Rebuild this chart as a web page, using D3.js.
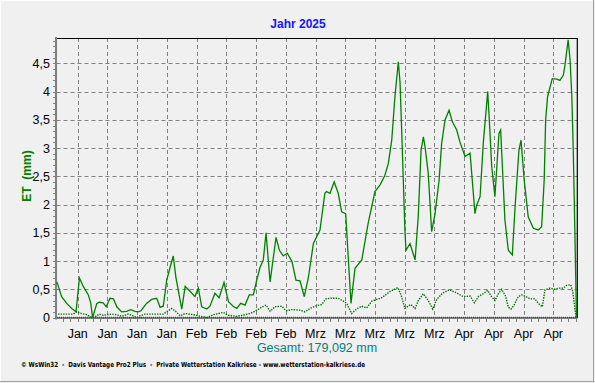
<!DOCTYPE html>
<html><head><meta charset="utf-8">
<script src="https://cdn.jsdelivr.net/npm/d3@7"></script>
<style>html,body{margin:0;padding:0;background:#f0f0f0;}svg{display:block;}</style>
</head><body><svg id="c" width="595" height="383"></svg>
<script>
// Daily ET (solid line): day offset from 1 Jan 2025, value in mm
const etDays = [0.1,1.2,2.4,3.6,4.6,5.4,6.3,7.5,8.05,8.5,9.5,10.1,11.0,11.7,12.6,13.4,14.2,15.35,16.5,17.5,18.5,19.3,19.9,21.2,22.4,23.6,24.4,25.15,25.95,26.9,27.5,28.1,29.5,30.3,31.4,32.6,33.4,34.2,35.4,36.15,37.3,38.3,39.45,40.5,41.6,42.45,43.4,44.4,45.4,46.35,47.15,47.9,48.7,49.35,50.3,51.7,52.5,53.4,54.35,55.45,56.4,57.35,58.35,59.3,60.5,62.05,63.2,63.6,64.4,65.4,66.35,67.15,68.1,69.35,70.3,71.9,73.4,75.0,76.2,77.35,78.15,78.95,79.7,80.5,80.9,81.3,82.05,82.3,83.25,84.45,85.2,85.85,86.4,86.8,87.55,88.35,89.15,90.1,90.7,91.5,92.45,93.2,94.25,95.0,96.2,97.4,98.55,98.95,99.75,100.5,101.55,101.85,102.5,103.25,104.2,104.6,105.6,106.4,107.35,108.0,108.9,109.4,110.15,111.1,112.3,113.45,114.25,114.85,115.2,115.65,116.75,117.8,118.55,119.35,119.75,120.5,120.95,121.35,121.7,122.1,122.45];
const etValues = [0.63,0.37,0.25,0.16,0.10,0.70,0.55,0.40,0.26,0.0,0.25,0.27,0.26,0.19,0.34,0.33,0.19,0.10,0.11,0.14,0.11,0.10,0.12,0.25,0.32,0.34,0.18,0.20,0.66,0.93,1.09,0.72,0.15,0.55,0.47,0.37,0.52,0.19,0.15,0.20,0.43,0.35,0.62,0.28,0.20,0.16,0.25,0.22,0.40,0.40,0.66,0.88,1.02,1.50,0.63,1.42,1.19,1.09,1.14,0.99,0.66,0.65,0.37,0.70,1.31,1.55,2.20,2.23,2.20,2.40,2.20,1.87,1.84,0.25,0.87,1.02,1.67,2.23,2.35,2.52,2.73,3.14,3.91,4.53,4.17,3.30,1.55,1.19,1.31,1.02,1.80,2.96,3.20,3.02,2.55,1.52,1.84,2.43,3.08,3.50,3.67,3.47,3.32,3.11,2.85,2.91,1.84,1.99,2.14,3.08,4.00,3.61,2.67,2.14,3.26,3.32,1.73,1.19,1.11,1.96,2.96,3.14,2.43,1.78,1.58,1.55,1.61,2.43,3.50,3.91,4.23,4.22,4.20,4.29,4.47,4.92,4.56,3.94,2.96,1.43,0];
// Second series (dotted line)
const dotDays = [0.35,3.9,4.75,5.9,7.1,8.3,9.05,10.1,11.0,13.0,14.2,15.35,16.9,17.7,18.9,19.65,20.85,25.15,27.1,27.9,29.1,30.25,32.2,33.4,35.35,36.95,39.3,40.45,42.45,44.4,45.55,46.75,48.3,49.35,50.3,51.45,53.05,54.05,55.4,57.35,58.5,59.7,61.3,62.45,63.45,64.4,66.35,67.55,68.35,69.5,70.7,71.85,73.05,74.25,76.6,78.55,80.35,81.15,82.05,83.4,84.45,85.2,86.4,87.55,88.6,89.55,90.9,92.5,93.85,95.8,97.4,98.4,99.35,100.5,101.55,102.25,103.25,104.05,104.85,105.8,106.4,107.05,107.75,108.75,109.55,110.55,111.5,112.7,113.45,114.4,115.05,116.2,117.4,118.4,119.35,120.15,121.1,121.55,121.85,122.35];
const dotValues = [0.06,0.06,0.10,0.07,0.05,0.0,0.01,0.06,0.04,0.06,0.05,0.02,0.06,0.04,0.0,0.03,0.06,0.06,0.16,0.12,0.03,0.07,0.05,0.03,0.0,0.05,0.09,0.04,0.02,0.05,0.07,0.11,0.18,0.22,0.11,0.19,0.20,0.12,0.14,0.13,0.10,0.16,0.21,0.23,0.33,0.34,0.34,0.29,0.25,0.07,0.15,0.20,0.17,0.29,0.35,0.46,0.53,0.40,0.16,0.23,0.16,0.30,0.42,0.30,0.15,0.32,0.43,0.49,0.45,0.37,0.38,0.26,0.37,0.42,0.48,0.39,0.30,0.42,0.50,0.37,0.18,0.15,0.22,0.37,0.40,0.37,0.33,0.33,0.25,0.19,0.49,0.52,0.50,0.52,0.52,0.57,0.58,0.47,0.30,0.0];
const monthNames = ["Jan","Feb","Mrz","Apr","Mai"];
const yTickValues = [0,0.5,1,1.5,2,2.5,3,3.5,4,4.5];
const titleText = "Jahr 2025";
const yLabelText = "ET  (mm)";
const totalText = "Gesamt: 179,092 mm";
const footerText = "\u00A9 WsWin32  -  Davis Vantage Pro2 Plus  -  Private Wetterstation Kalkriese - www.wetterstation-kalkriese.de";

const DAY = 864e5;
const t0 = Date.UTC(2025,0,1);
const toDate = d => new Date(t0 + d * DAY);
const x = d3.scaleUtc().domain([toDate(0), toDate(122.65)]).range([56.5, 577.3]);
const y = d3.scaleLinear().domain([0, 4.95]).range([317.5, 38]);
const L = 56.5, R = 577.3, T = 38, B = 317.5;

const svg = d3.select("#c");
svg.append("rect").attr("width",595).attr("height",383).attr("fill","#f0f0f0");
// outer frame
svg.append("line").attr("x1",0).attr("x2",594).attr("y1",0.5).attr("y2",0.5).attr("stroke","#ffffff");
svg.append("line").attr("x1",0.5).attr("x2",0.5).attr("y1",0).attr("y2",382).attr("stroke","#ffffff");
svg.append("line").attr("x1",0).attr("x2",594.5).attr("y1",381.5).attr("y2",381.5).attr("stroke","#a0a0a0");
svg.append("line").attr("x1",593.5).attr("x2",593.5).attr("y1",0).attr("y2",382).attr("stroke","#a0a0a0");

const weeks = d3.utcMonday.range(x.domain()[0], x.domain()[1]);
// vertical grid
svg.append("g").selectAll("line").data(weeks).join("line")
  .attr("x1", d => Math.round(x(d)) + 0.5).attr("x2", d => Math.round(x(d)) + 0.5)
  .attr("y1", T).attr("y2", B)
  .attr("stroke","#808080").attr("stroke-dasharray","4,3");
// horizontal grid
svg.append("g").selectAll("line").data(yTickValues.filter(v => v > 0)).join("line")
  .attr("x1", L).attr("x2", R)
  .attr("y1", d => Math.round(y(d)) + 0.5).attr("y2", d => Math.round(y(d)) + 0.5)
  .attr("stroke","#808080").attr("stroke-dasharray","4,3");

// y ticks minor
const yMinor = d3.range(0, 4.95, 0.1);
svg.append("g").selectAll("line").data(yMinor).join("line")
  .attr("x1", 53).attr("x2", 56)
  .attr("y1", d => Math.round(y(d)) + 0.5).attr("y2", d => Math.round(y(d)) + 0.5)
  .attr("stroke","#808080");
// x ticks minor (4 per week)
const firstMon = d3.utcMonday.ceil(x.domain()[0]).getTime();
const xMinor = d3.range(-3, 80).map(k => new Date(firstMon + k * 42 * 3600e3))
  .filter(d => d >= x.domain()[0] && d <= x.domain()[1]);
svg.append("g").selectAll("line").data(xMinor).join("line")
  .attr("x1", d => Math.round(x(d)) + 0.5).attr("x2", d => Math.round(x(d)) + 0.5)
  .attr("y1", 318).attr("y2", 322)
  .attr("stroke","#808080");

// axes lines
svg.append("line").attr("x1", 56).attr("x2", 56).attr("y1", T - 1).attr("y2", 319.5)
  .attr("stroke","#808080").attr("stroke-width",2);
svg.append("line").attr("x1", 55).attr("x2", R).attr("y1", 318).attr("y2", 318)
  .attr("stroke","#808080").attr("stroke-width",2);
// top and right frame
svg.append("line").attr("x1", 57).attr("x2", R + 0.5).attr("y1", T + 0.5).attr("y2", T + 0.5)
  .attr("stroke","#000").attr("stroke-width",1.2);
svg.append("line").attr("x1", R).attr("x2", R).attr("y1", T).attr("y2", 318)
  .attr("stroke","#000").attr("stroke-width",1.2);

// zero baseline (green dotted)
svg.append("line").attr("x1", 57).attr("x2", R).attr("y1", y(0)).attr("y2", y(0))
  .attr("stroke","#008000").attr("stroke-width",1.3).attr("stroke-dasharray","1,1");

// series
const line = d3.line().x(d => x(toDate(d[0]))).y(d => y(d[1]));
svg.append("path").datum(dotDays.map((d,i) => [d, dotValues[i]]))
  .attr("d", line).attr("fill","none").attr("stroke","#007000")
  .attr("stroke-width",1.4).attr("stroke-dasharray","1.4,1.2");
svg.append("path").datum(etDays.map((d,i) => [d, etValues[i]]))
  .attr("d", line).attr("fill","none").attr("stroke","#008000")
  .attr("stroke-width",1.3).attr("stroke-linejoin","miter");

// tick labels
const font = "Liberation Sans, Arial, sans-serif";
svg.append("g").selectAll("text").data(yTickValues).join("text")
  .attr("x", 50).attr("y", d => y(d) + 4.5)
  .attr("text-anchor","end").attr("font-family",font).attr("font-size",12.5).attr("fill","#000")
  .text(d => String(d).replace(".", ","));
svg.append("g").selectAll("text").data(weeks).join("text")
  .attr("x", d => x(d)).attr("y", 337.5)
  .attr("text-anchor","middle").attr("font-family",font).attr("font-size",12.5).attr("fill","#000")
  .text(d => monthNames[d.getUTCMonth()]);

// title
svg.append("text").attr("x", 298).attr("y", 28.3).attr("text-anchor","middle")
  .attr("font-family",font).attr("font-weight","bold").attr("font-size",12).attr("fill","#1515ff")
  .text(titleText);
// y label
svg.append("text").attr("transform","translate(31,176) rotate(-90)").attr("text-anchor","middle")
  .attr("font-family",font).attr("font-weight","bold").attr("font-size",12).attr("fill","#008000")
  .style("white-space","pre")
  .text(yLabelText);
// total
svg.append("text").attr("x", 317).attr("y", 352).attr("text-anchor","middle")
  .attr("font-family",font).attr("font-size",12.5).attr("fill","#008080")
  .text(totalText);
// footer
svg.append("text").attr("x", 21).attr("y", 367).attr("font-family","DejaVu Sans, sans-serif")
  .attr("font-weight","bold").attr("font-size",7).attr("fill","#000")
  .attr("textLength",344).attr("lengthAdjust","spacingAndGlyphs")
  .style("white-space","pre")
  .text(footerText);
</script></body></html>
